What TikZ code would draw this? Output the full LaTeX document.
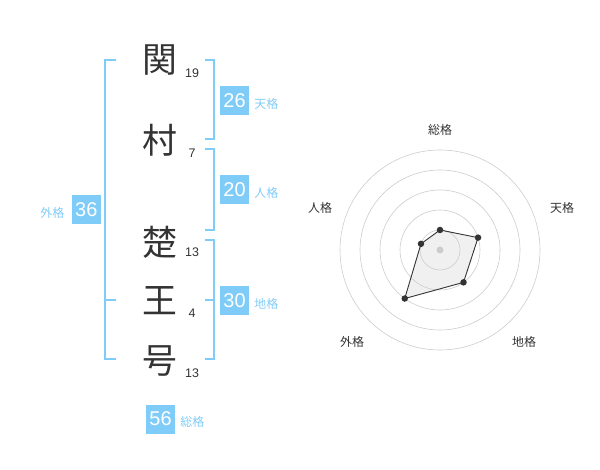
\documentclass[tikz,border=0pt]{standalone}
\usepackage{fontspec}
\setmainfont{Liberation Sans}
\newfontfamily\jpfont{Noto Sans CJK JP}
\usetikzlibrary{positioning}

\definecolor{kakublue}{HTML}{80CCF8}
\definecolor{inkgray}{HTML}{333333}

\tikzset{
	kanji/.style={font=\jpfont\fontsize{35}{35}\selectfont, text=inkgray, inner sep=0pt},
	strokes/.style={font=\fontsize{12.5}{12.5}\selectfont, text=inkgray, inner sep=0pt},
	score/.style={fill=kakublue, text=white, minimum size=29bp, inner sep=0pt, font=\fontsize{20}{20}\selectfont},
	kaku/.style={font=\jpfont\fontsize{12}{12}\selectfont, text=kakublue, inner sep=0pt},
	brace/.style={draw=kakublue, line width=1.6bp},
	ring/.style={draw=black!20, line width=0.6bp},
	dot/.style={circle, fill=inkgray, minimum size=6.5bp, inner sep=0pt},
	axis/.style={font=\jpfont\fontsize{12}{12}\selectfont, text=inkgray, inner sep=0pt}
}

\begin{document}
\begin{tikzpicture}[x=1bp, y=-1bp]
	\useasboundingbox (0, 0) rectangle (600, 470);

	% Name
	\node[kanji] (k1) at (160, 60) {関};
	\node[kanji] (k2) at (160, 140) {村};
	\node[kanji] (k3) at (160, 242) {楚};
	\node[kanji] (k4) at (160, 301) {王};
	\node[kanji] (k5) at (160, 361) {号};

	\node[strokes] (s1) at (192, 73) {19};
	\node[strokes] (s2) at (192, 153) {7};
	\node[strokes] (s3) at (192, 252) {13};
	\node[strokes] (s4) at (192, 313) {4};
	\node[strokes] (s5) at (192, 373) {13};

	% Brackets
	\draw[brace] (116, 60) -| (105, 359) -- (116, 359);
	\draw[brace] (105, 300) -- (116, 300);
	\draw[brace] (205, 60) -| (214, 139) -- (205, 139);
	\draw[brace] (205, 149) -| (214, 230) -- (205, 230);
	\draw[brace] (205, 240) -| (214, 359) -- (205, 359);
	\draw[brace] (205, 300) -- (214, 300);

	% Scores
	\node[score] (b26) at (234.5, 100.5) {26};
	\node[score] (b20) at (234.5, 190) {20};
	\node[score] (b30) at (234.5, 300.5) {30};
	\node[score] (b36) at (86.3, 210) {36};
	\node[score] (b56) at (160.5, 419) {56};

	\node[kaku, right=5bp of b26, yshift=-3bp] {天格};
	\node[kaku, right=5bp of b20, yshift=-3bp] {人格};
	\node[kaku, right=5bp of b30, yshift=-3bp] {地格};
	\node[kaku, left=7bp of b36, yshift=-3bp] {外格};
	\node[kaku, right=5bp of b56, yshift=-3bp] {総格};

	% Radar
	\begin{scope}[shift={(440, 250)}]
		\coordinate (sou) at (-90:20);
		\coordinate (ten) at (-18:40);
		\coordinate (chi) at (54:40);
		\coordinate (gai) at (126:60);
		\coordinate (jin) at (-162:20);

		\fill[black!6] (sou) -- (ten) -- (chi) -- (gai) -- (jin) -- cycle;
		\foreach \r in {20, 40, 60, 80, 100}
			\draw[ring] (0, 0) circle (\r);
		\fill[black!20] (0, 0) circle (3.5);

		\draw[draw=inkgray, line width=0.9bp]
			(sou) -- (ten) -- (chi) -- (gai) -- (jin) -- cycle;
		\foreach \p in {sou, ten, chi, gai, jin}
			\node[dot] at (\p) {};

		\node[axis] (lsou) at (0, -120) {総格};
		\node[axis] (lten) at (122, -42) {天格};
		\node[axis] (lchi) at (84, 92) {地格};
		\node[axis] (lgai) at (-88, 92) {外格};
		\node[axis] (ljin) at (-120, -42) {人格};
	\end{scope}
\end{tikzpicture}
\end{document}
